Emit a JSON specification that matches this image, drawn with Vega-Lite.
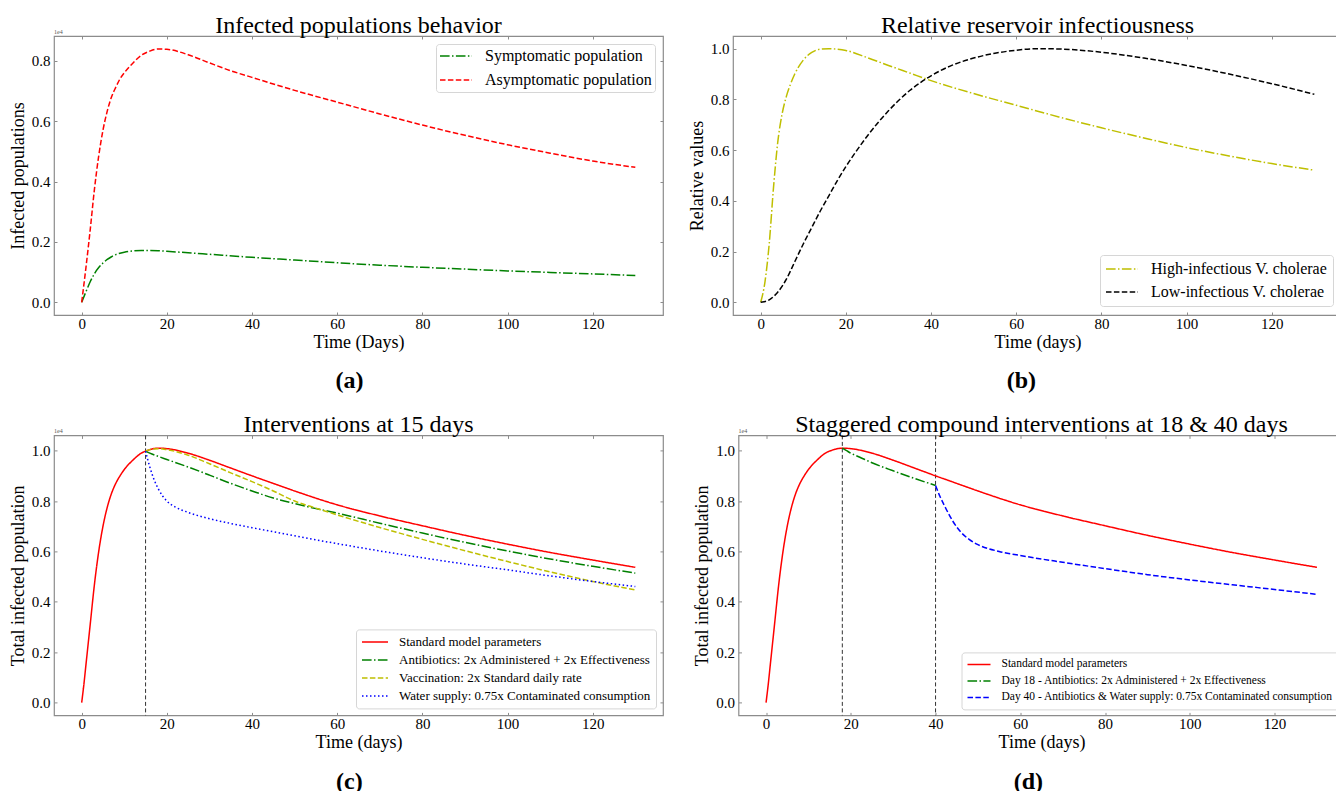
{
  "$schema": "https://vega.github.io/schema/vega-lite/v6.json",
  "padding": {"left": 8, "top": 13, "right": 0, "bottom": 0},
  "background": "white",
  "config": {
    "font": "Liberation Serif",
    "view": {"stroke": "#8c8c8c", "strokeWidth": 1.2},
    "axis": {"domain": false, "grid": false, "tickColor": "#8c8c8c", "tickSize": -3, "labelPadding": 7, "labelFont": "Liberation Serif", "labelFontSize": 15, "labelColor": "#000", "titleFont": "Liberation Serif", "titleFontSize": 18, "titleFontWeight": "normal", "titleColor": "#000"},
    "axisX": {"titlePadding": 1.5, "labelPadding": 4.5},
    "axisY": {"titlePadding": 4},
    "title": {"font": "Liberation Serif", "fontWeight": "normal", "color": "#000"},
    "legend": {"labelFont": "Liberation Serif", "labelColor": "#000", "fillColor": "rgba(255,255,255,0.85)", "strokeColor": "#d6d6d6", "cornerRadius": 3, "symbolType": "stroke", "symbolStrokeWidth": 1.5, "labelLimit": 600}
  },
  "datasets": {
    "a": [
      {"t": 0, "v": 0, "s": "Symptomatic population"}, {"t": 1, "v": 0.035, "s": "Symptomatic population"}, {"t": 2, "v": 0.068, "s": "Symptomatic population"}, {"t": 3, "v": 0.095, "s": "Symptomatic population"}, {"t": 4, "v": 0.115, "s": "Symptomatic population"}, {"t": 5, "v": 0.13, "s": "Symptomatic population"}, {"t": 6, "v": 0.142, "s": "Symptomatic population"}, {"t": 7, "v": 0.151, "s": "Symptomatic population"}, {"t": 8, "v": 0.158, "s": "Symptomatic population"}, {"t": 10, "v": 0.166, "s": "Symptomatic population"}, {"t": 12, "v": 0.17, "s": "Symptomatic population"}, {"t": 14, "v": 0.172, "s": "Symptomatic population"}, {"t": 16, "v": 0.172, "s": "Symptomatic population"}, {"t": 18, "v": 0.171, "s": "Symptomatic population"}, {"t": 20, "v": 0.169, "s": "Symptomatic population"}, {"t": 25, "v": 0.164, "s": "Symptomatic population"}, {"t": 30, "v": 0.159, "s": "Symptomatic population"}, {"t": 40, "v": 0.149, "s": "Symptomatic population"}, {"t": 50, "v": 0.14, "s": "Symptomatic population"}, {"t": 60, "v": 0.131, "s": "Symptomatic population"}, {"t": 70, "v": 0.123, "s": "Symptomatic population"}, {"t": 80, "v": 0.116, "s": "Symptomatic population"}, {"t": 90, "v": 0.11, "s": "Symptomatic population"}, {"t": 100, "v": 0.104, "s": "Symptomatic population"}, {"t": 110, "v": 0.099, "s": "Symptomatic population"}, {"t": 120, "v": 0.094, "s": "Symptomatic population"}, {"t": 130, "v": 0.089, "s": "Symptomatic population"},
      {"t": 0, "v": 0, "s": "Asymptomatic population"}, {"t": 1, "v": 0.115, "s": "Asymptomatic population"}, {"t": 2, "v": 0.24, "s": "Asymptomatic population"}, {"t": 3, "v": 0.375, "s": "Asymptomatic population"}, {"t": 4, "v": 0.485, "s": "Asymptomatic population"}, {"t": 5, "v": 0.57, "s": "Asymptomatic population"}, {"t": 6, "v": 0.633, "s": "Asymptomatic population"}, {"t": 7, "v": 0.68, "s": "Asymptomatic population"}, {"t": 8, "v": 0.712, "s": "Asymptomatic population"}, {"t": 9, "v": 0.74, "s": "Asymptomatic population"}, {"t": 10, "v": 0.76, "s": "Asymptomatic population"}, {"t": 12, "v": 0.792, "s": "Asymptomatic population"}, {"t": 14, "v": 0.818, "s": "Asymptomatic population"}, {"t": 16, "v": 0.832, "s": "Asymptomatic population"}, {"t": 18, "v": 0.839, "s": "Asymptomatic population"}, {"t": 20, "v": 0.838, "s": "Asymptomatic population"}, {"t": 25, "v": 0.82, "s": "Asymptomatic population"}, {"t": 30, "v": 0.793, "s": "Asymptomatic population"}, {"t": 35, "v": 0.767, "s": "Asymptomatic population"}, {"t": 40, "v": 0.745, "s": "Asymptomatic population"}, {"t": 45, "v": 0.723, "s": "Asymptomatic population"}, {"t": 50, "v": 0.702, "s": "Asymptomatic population"}, {"t": 60, "v": 0.663, "s": "Asymptomatic population"}, {"t": 70, "v": 0.624, "s": "Asymptomatic population"}, {"t": 80, "v": 0.587, "s": "Asymptomatic population"}, {"t": 90, "v": 0.553, "s": "Asymptomatic population"}, {"t": 100, "v": 0.522, "s": "Asymptomatic population"}, {"t": 110, "v": 0.494, "s": "Asymptomatic population"}, {"t": 120, "v": 0.468, "s": "Asymptomatic population"}, {"t": 130, "v": 0.447, "s": "Asymptomatic population"}
    ],
    "b": [
      {"t": 0, "v": 0, "s": "High-infectious V. cholerae"}, {"t": 1, "v": 0.08, "s": "High-infectious V. cholerae"}, {"t": 2, "v": 0.23, "s": "High-infectious V. cholerae"}, {"t": 3, "v": 0.45, "s": "High-infectious V. cholerae"}, {"t": 4, "v": 0.63, "s": "High-infectious V. cholerae"}, {"t": 5, "v": 0.74, "s": "High-infectious V. cholerae"}, {"t": 6, "v": 0.81, "s": "High-infectious V. cholerae"}, {"t": 7, "v": 0.86, "s": "High-infectious V. cholerae"}, {"t": 8, "v": 0.9, "s": "High-infectious V. cholerae"}, {"t": 10, "v": 0.955, "s": "High-infectious V. cholerae"}, {"t": 12, "v": 0.985, "s": "High-infectious V. cholerae"}, {"t": 14, "v": 0.998, "s": "High-infectious V. cholerae"}, {"t": 16, "v": 1.0, "s": "High-infectious V. cholerae"}, {"t": 18, "v": 0.998, "s": "High-infectious V. cholerae"}, {"t": 20, "v": 0.993, "s": "High-infectious V. cholerae"}, {"t": 25, "v": 0.965, "s": "High-infectious V. cholerae"}, {"t": 30, "v": 0.934, "s": "High-infectious V. cholerae"}, {"t": 35, "v": 0.904, "s": "High-infectious V. cholerae"}, {"t": 40, "v": 0.874, "s": "High-infectious V. cholerae"}, {"t": 50, "v": 0.823, "s": "High-infectious V. cholerae"}, {"t": 60, "v": 0.777, "s": "High-infectious V. cholerae"}, {"t": 70, "v": 0.731, "s": "High-infectious V. cholerae"}, {"t": 80, "v": 0.688, "s": "High-infectious V. cholerae"}, {"t": 90, "v": 0.648, "s": "High-infectious V. cholerae"}, {"t": 100, "v": 0.61, "s": "High-infectious V. cholerae"}, {"t": 110, "v": 0.577, "s": "High-infectious V. cholerae"}, {"t": 120, "v": 0.547, "s": "High-infectious V. cholerae"}, {"t": 130, "v": 0.521, "s": "High-infectious V. cholerae"},
      {"t": 0, "v": 0, "s": "Low-infectious V. cholerae"}, {"t": 2, "v": 0.01, "s": "Low-infectious V. cholerae"}, {"t": 4, "v": 0.04, "s": "Low-infectious V. cholerae"}, {"t": 6, "v": 0.09, "s": "Low-infectious V. cholerae"}, {"t": 8, "v": 0.16, "s": "Low-infectious V. cholerae"}, {"t": 10, "v": 0.23, "s": "Low-infectious V. cholerae"}, {"t": 12, "v": 0.295, "s": "Low-infectious V. cholerae"}, {"t": 14, "v": 0.36, "s": "Low-infectious V. cholerae"}, {"t": 16, "v": 0.42, "s": "Low-infectious V. cholerae"}, {"t": 18, "v": 0.48, "s": "Low-infectious V. cholerae"}, {"t": 20, "v": 0.535, "s": "Low-infectious V. cholerae"}, {"t": 22, "v": 0.585, "s": "Low-infectious V. cholerae"}, {"t": 25, "v": 0.655, "s": "Low-infectious V. cholerae"}, {"t": 30, "v": 0.755, "s": "Low-infectious V. cholerae"}, {"t": 35, "v": 0.835, "s": "Low-infectious V. cholerae"}, {"t": 40, "v": 0.893, "s": "Low-infectious V. cholerae"}, {"t": 45, "v": 0.935, "s": "Low-infectious V. cholerae"}, {"t": 50, "v": 0.963, "s": "Low-infectious V. cholerae"}, {"t": 55, "v": 0.982, "s": "Low-infectious V. cholerae"}, {"t": 60, "v": 0.994, "s": "Low-infectious V. cholerae"}, {"t": 65, "v": 1.0, "s": "Low-infectious V. cholerae"}, {"t": 70, "v": 0.999, "s": "Low-infectious V. cholerae"}, {"t": 75, "v": 0.994, "s": "Low-infectious V. cholerae"}, {"t": 80, "v": 0.986, "s": "Low-infectious V. cholerae"}, {"t": 90, "v": 0.963, "s": "Low-infectious V. cholerae"}, {"t": 100, "v": 0.934, "s": "Low-infectious V. cholerae"}, {"t": 110, "v": 0.9, "s": "Low-infectious V. cholerae"}, {"t": 120, "v": 0.862, "s": "Low-infectious V. cholerae"}, {"t": 130, "v": 0.82, "s": "Low-infectious V. cholerae"}
    ],
    "c": [
      {"t": 0, "v": 0, "s": "Standard model parameters"}, {"t": 0.5, "v": 0.07, "s": "Standard model parameters"}, {"t": 1, "v": 0.15, "s": "Standard model parameters"}, {"t": 2, "v": 0.31, "s": "Standard model parameters"}, {"t": 3, "v": 0.47, "s": "Standard model parameters"}, {"t": 4, "v": 0.6, "s": "Standard model parameters"}, {"t": 5, "v": 0.7, "s": "Standard model parameters"}, {"t": 6, "v": 0.775, "s": "Standard model parameters"}, {"t": 7, "v": 0.83, "s": "Standard model parameters"}, {"t": 8, "v": 0.87, "s": "Standard model parameters"}, {"t": 9, "v": 0.9, "s": "Standard model parameters"}, {"t": 10, "v": 0.925, "s": "Standard model parameters"}, {"t": 12, "v": 0.962, "s": "Standard model parameters"}, {"t": 14, "v": 0.99, "s": "Standard model parameters"}, {"t": 15, "v": 0.998, "s": "Standard model parameters"}, {"t": 16, "v": 1.004, "s": "Standard model parameters"}, {"t": 18, "v": 1.01, "s": "Standard model parameters"}, {"t": 20, "v": 1.008, "s": "Standard model parameters"}, {"t": 25, "v": 0.99, "s": "Standard model parameters"}, {"t": 30, "v": 0.962, "s": "Standard model parameters"}, {"t": 35, "v": 0.931, "s": "Standard model parameters"}, {"t": 40, "v": 0.9, "s": "Standard model parameters"}, {"t": 45, "v": 0.87, "s": "Standard model parameters"}, {"t": 50, "v": 0.84, "s": "Standard model parameters"}, {"t": 60, "v": 0.785, "s": "Standard model parameters"}, {"t": 70, "v": 0.741, "s": "Standard model parameters"}, {"t": 80, "v": 0.702, "s": "Standard model parameters"}, {"t": 90, "v": 0.664, "s": "Standard model parameters"}, {"t": 100, "v": 0.629, "s": "Standard model parameters"}, {"t": 110, "v": 0.596, "s": "Standard model parameters"}, {"t": 120, "v": 0.566, "s": "Standard model parameters"}, {"t": 130, "v": 0.537, "s": "Standard model parameters"},
      {"t": 15, "v": 0.998, "s": "Antibiotics: 2x Administered + 2x Effectiveness"}, {"t": 16, "v": 0.99, "s": "Antibiotics: 2x Administered + 2x Effectiveness"}, {"t": 18, "v": 0.977, "s": "Antibiotics: 2x Administered + 2x Effectiveness"}, {"t": 20, "v": 0.965, "s": "Antibiotics: 2x Administered + 2x Effectiveness"}, {"t": 25, "v": 0.935, "s": "Antibiotics: 2x Administered + 2x Effectiveness"}, {"t": 30, "v": 0.903, "s": "Antibiotics: 2x Administered + 2x Effectiveness"}, {"t": 35, "v": 0.87, "s": "Antibiotics: 2x Administered + 2x Effectiveness"}, {"t": 40, "v": 0.84, "s": "Antibiotics: 2x Administered + 2x Effectiveness"}, {"t": 45, "v": 0.812, "s": "Antibiotics: 2x Administered + 2x Effectiveness"}, {"t": 50, "v": 0.79, "s": "Antibiotics: 2x Administered + 2x Effectiveness"}, {"t": 55, "v": 0.77, "s": "Antibiotics: 2x Administered + 2x Effectiveness"}, {"t": 60, "v": 0.752, "s": "Antibiotics: 2x Administered + 2x Effectiveness"}, {"t": 70, "v": 0.712, "s": "Antibiotics: 2x Administered + 2x Effectiveness"}, {"t": 80, "v": 0.673, "s": "Antibiotics: 2x Administered + 2x Effectiveness"}, {"t": 90, "v": 0.636, "s": "Antibiotics: 2x Administered + 2x Effectiveness"}, {"t": 100, "v": 0.602, "s": "Antibiotics: 2x Administered + 2x Effectiveness"}, {"t": 110, "v": 0.57, "s": "Antibiotics: 2x Administered + 2x Effectiveness"}, {"t": 120, "v": 0.541, "s": "Antibiotics: 2x Administered + 2x Effectiveness"}, {"t": 130, "v": 0.514, "s": "Antibiotics: 2x Administered + 2x Effectiveness"},
      {"t": 15, "v": 0.998, "s": "Vaccination: 2x Standard daily rate"}, {"t": 16, "v": 1.004, "s": "Vaccination: 2x Standard daily rate"}, {"t": 18, "v": 1.008, "s": "Vaccination: 2x Standard daily rate"}, {"t": 20, "v": 1.004, "s": "Vaccination: 2x Standard daily rate"}, {"t": 25, "v": 0.982, "s": "Vaccination: 2x Standard daily rate"}, {"t": 30, "v": 0.948, "s": "Vaccination: 2x Standard daily rate"}, {"t": 35, "v": 0.912, "s": "Vaccination: 2x Standard daily rate"}, {"t": 40, "v": 0.877, "s": "Vaccination: 2x Standard daily rate"}, {"t": 45, "v": 0.84, "s": "Vaccination: 2x Standard daily rate"}, {"t": 50, "v": 0.8, "s": "Vaccination: 2x Standard daily rate"}, {"t": 55, "v": 0.772, "s": "Vaccination: 2x Standard daily rate"}, {"t": 60, "v": 0.745, "s": "Vaccination: 2x Standard daily rate"}, {"t": 70, "v": 0.695, "s": "Vaccination: 2x Standard daily rate"}, {"t": 80, "v": 0.648, "s": "Vaccination: 2x Standard daily rate"}, {"t": 90, "v": 0.603, "s": "Vaccination: 2x Standard daily rate"}, {"t": 100, "v": 0.56, "s": "Vaccination: 2x Standard daily rate"}, {"t": 110, "v": 0.519, "s": "Vaccination: 2x Standard daily rate"}, {"t": 120, "v": 0.481, "s": "Vaccination: 2x Standard daily rate"}, {"t": 130, "v": 0.447, "s": "Vaccination: 2x Standard daily rate"},
      {"t": 15, "v": 0.998, "s": "Water supply: 0.75x Contaminated consumption"}, {"t": 15.5, "v": 0.965, "s": "Water supply: 0.75x Contaminated consumption"}, {"t": 16, "v": 0.935, "s": "Water supply: 0.75x Contaminated consumption"}, {"t": 17, "v": 0.885, "s": "Water supply: 0.75x Contaminated consumption"}, {"t": 18, "v": 0.848, "s": "Water supply: 0.75x Contaminated consumption"}, {"t": 19, "v": 0.82, "s": "Water supply: 0.75x Contaminated consumption"}, {"t": 20, "v": 0.8, "s": "Water supply: 0.75x Contaminated consumption"}, {"t": 22, "v": 0.776, "s": "Water supply: 0.75x Contaminated consumption"}, {"t": 25, "v": 0.755, "s": "Water supply: 0.75x Contaminated consumption"}, {"t": 30, "v": 0.73, "s": "Water supply: 0.75x Contaminated consumption"}, {"t": 35, "v": 0.711, "s": "Water supply: 0.75x Contaminated consumption"}, {"t": 40, "v": 0.694, "s": "Water supply: 0.75x Contaminated consumption"}, {"t": 45, "v": 0.678, "s": "Water supply: 0.75x Contaminated consumption"}, {"t": 50, "v": 0.662, "s": "Water supply: 0.75x Contaminated consumption"}, {"t": 55, "v": 0.646, "s": "Water supply: 0.75x Contaminated consumption"}, {"t": 60, "v": 0.631, "s": "Water supply: 0.75x Contaminated consumption"}, {"t": 70, "v": 0.602, "s": "Water supply: 0.75x Contaminated consumption"}, {"t": 80, "v": 0.575, "s": "Water supply: 0.75x Contaminated consumption"}, {"t": 90, "v": 0.55, "s": "Water supply: 0.75x Contaminated consumption"}, {"t": 100, "v": 0.527, "s": "Water supply: 0.75x Contaminated consumption"}, {"t": 110, "v": 0.503, "s": "Water supply: 0.75x Contaminated consumption"}, {"t": 120, "v": 0.481, "s": "Water supply: 0.75x Contaminated consumption"}, {"t": 130, "v": 0.461, "s": "Water supply: 0.75x Contaminated consumption"}
    ],
    "d": [
      {"t": 0, "v": 0, "s": "Standard model parameters"}, {"t": 0.5, "v": 0.07, "s": "Standard model parameters"}, {"t": 1, "v": 0.15, "s": "Standard model parameters"}, {"t": 2, "v": 0.31, "s": "Standard model parameters"}, {"t": 3, "v": 0.47, "s": "Standard model parameters"}, {"t": 4, "v": 0.6, "s": "Standard model parameters"}, {"t": 5, "v": 0.7, "s": "Standard model parameters"}, {"t": 6, "v": 0.775, "s": "Standard model parameters"}, {"t": 7, "v": 0.83, "s": "Standard model parameters"}, {"t": 8, "v": 0.87, "s": "Standard model parameters"}, {"t": 9, "v": 0.9, "s": "Standard model parameters"}, {"t": 10, "v": 0.925, "s": "Standard model parameters"}, {"t": 12, "v": 0.962, "s": "Standard model parameters"}, {"t": 14, "v": 0.99, "s": "Standard model parameters"}, {"t": 16, "v": 1.004, "s": "Standard model parameters"}, {"t": 18, "v": 1.01, "s": "Standard model parameters"}, {"t": 20, "v": 1.008, "s": "Standard model parameters"}, {"t": 25, "v": 0.99, "s": "Standard model parameters"}, {"t": 30, "v": 0.962, "s": "Standard model parameters"}, {"t": 35, "v": 0.931, "s": "Standard model parameters"}, {"t": 40, "v": 0.9, "s": "Standard model parameters"}, {"t": 45, "v": 0.87, "s": "Standard model parameters"}, {"t": 50, "v": 0.84, "s": "Standard model parameters"}, {"t": 60, "v": 0.785, "s": "Standard model parameters"}, {"t": 70, "v": 0.741, "s": "Standard model parameters"}, {"t": 80, "v": 0.702, "s": "Standard model parameters"}, {"t": 90, "v": 0.664, "s": "Standard model parameters"}, {"t": 100, "v": 0.629, "s": "Standard model parameters"}, {"t": 110, "v": 0.596, "s": "Standard model parameters"}, {"t": 120, "v": 0.566, "s": "Standard model parameters"}, {"t": 130, "v": 0.537, "s": "Standard model parameters"},
      {"t": 18, "v": 1.01, "s": "Day 18 - Antibiotics: 2x Administered + 2x Effectiveness"}, {"t": 19, "v": 1.0, "s": "Day 18 - Antibiotics: 2x Administered + 2x Effectiveness"}, {"t": 20, "v": 0.99, "s": "Day 18 - Antibiotics: 2x Administered + 2x Effectiveness"}, {"t": 22, "v": 0.975, "s": "Day 18 - Antibiotics: 2x Administered + 2x Effectiveness"}, {"t": 25, "v": 0.952, "s": "Day 18 - Antibiotics: 2x Administered + 2x Effectiveness"}, {"t": 30, "v": 0.92, "s": "Day 18 - Antibiotics: 2x Administered + 2x Effectiveness"}, {"t": 35, "v": 0.89, "s": "Day 18 - Antibiotics: 2x Administered + 2x Effectiveness"}, {"t": 40, "v": 0.862, "s": "Day 18 - Antibiotics: 2x Administered + 2x Effectiveness"},
      {"t": 40, "v": 0.862, "s": "Day 40 - Antibiotics & Water supply: 0.75x Contaminated consumption"}, {"t": 41, "v": 0.82, "s": "Day 40 - Antibiotics & Water supply: 0.75x Contaminated consumption"}, {"t": 42, "v": 0.785, "s": "Day 40 - Antibiotics & Water supply: 0.75x Contaminated consumption"}, {"t": 43, "v": 0.752, "s": "Day 40 - Antibiotics & Water supply: 0.75x Contaminated consumption"}, {"t": 44, "v": 0.722, "s": "Day 40 - Antibiotics & Water supply: 0.75x Contaminated consumption"}, {"t": 45, "v": 0.697, "s": "Day 40 - Antibiotics & Water supply: 0.75x Contaminated consumption"}, {"t": 46, "v": 0.676, "s": "Day 40 - Antibiotics & Water supply: 0.75x Contaminated consumption"}, {"t": 48, "v": 0.647, "s": "Day 40 - Antibiotics & Water supply: 0.75x Contaminated consumption"}, {"t": 50, "v": 0.627, "s": "Day 40 - Antibiotics & Water supply: 0.75x Contaminated consumption"}, {"t": 55, "v": 0.6, "s": "Day 40 - Antibiotics & Water supply: 0.75x Contaminated consumption"}, {"t": 60, "v": 0.584, "s": "Day 40 - Antibiotics & Water supply: 0.75x Contaminated consumption"}, {"t": 70, "v": 0.557, "s": "Day 40 - Antibiotics & Water supply: 0.75x Contaminated consumption"}, {"t": 80, "v": 0.532, "s": "Day 40 - Antibiotics & Water supply: 0.75x Contaminated consumption"}, {"t": 90, "v": 0.508, "s": "Day 40 - Antibiotics & Water supply: 0.75x Contaminated consumption"}, {"t": 100, "v": 0.487, "s": "Day 40 - Antibiotics & Water supply: 0.75x Contaminated consumption"}, {"t": 110, "v": 0.468, "s": "Day 40 - Antibiotics & Water supply: 0.75x Contaminated consumption"}, {"t": 120, "v": 0.449, "s": "Day 40 - Antibiotics & Water supply: 0.75x Contaminated consumption"}, {"t": 130, "v": 0.43, "s": "Day 40 - Antibiotics & Water supply: 0.75x Contaminated consumption"}
    ]
  },
  "spacing": 18.4,
  "resolve": {"scale": {"color": "independent", "strokeDash": "independent"}, "legend": {"color": "independent", "strokeDash": "independent"}},
  "vconcat": [
    {
      "spacing": 22,
      "resolve": {"scale": {"color": "independent", "strokeDash": "independent"}, "legend": {"color": "independent", "strokeDash": "independent"}},
      "hconcat": [
        {
          "title": {"text": "(a)", "orient": "bottom", "fontSize": 24, "fontWeight": "bold", "anchor": "middle", "offset": 17.5, "dx": 13},
          "resolve": {"scale": {"color": "independent", "strokeDash": "independent"}, "legend": {"color": "independent", "strokeDash": "independent"}},
          "vconcat": [
            {
              "width": 609, "height": 279,
              "title": {"text": "Infected populations behavior", "fontSize": 24, "anchor": "middle", "frame": "group", "baseline": "alphabetic", "offset": -28},
              "layer": [
                {
                  "data": {"name": "a"},
                  "mark": {"type": "line", "strokeWidth": 1.5, "interpolate": "monotone"},
                  "encoding": {
                    "x": {"field": "t", "type": "quantitative", "scale": {"domain": [-6.5, 136.5], "nice": false, "zero": false}, "axis": {"orient": "bottom", "values": [0, 20, 40, 60, 80, 100, 120], "format": "d", "title": "Time (Days)"}},
                    "y": {"field": "v", "type": "quantitative", "scale": {"domain": [-0.042, 0.882], "nice": false, "zero": false}, "axis": {"orient": "left", "values": [0, 0.2, 0.4, 0.6, 0.8], "format": ".1f", "title": "Infected populations"}},
                    "color": {"field": "s", "type": "nominal", "scale": {"domain": ["Symptomatic population", "Asymptomatic population"], "range": ["#008000", "#ff0000"]}, "legend": {"title": null, "orient": "top-right", "offset": 8, "labelFontSize": 16, "symbolSize": 1024, "padding": 3, "clipHeight": 18, "rowPadding": 6, "labelOffset": 12}},
                    "strokeDash": {"field": "s", "type": "nominal", "scale": {"domain": ["Symptomatic population", "Asymptomatic population"], "range": [[9.6, 2.4, 1.5, 2.4], [5.5, 2.4]]}, "legend": {"title": null, "orient": "top-right", "offset": 8, "labelFontSize": 16, "symbolSize": 1024, "padding": 3, "clipHeight": 18, "rowPadding": 6, "labelOffset": 12}}
                  }
                },
                {
                  "data": {"values": [{"lab": "1e4"}]},
                  "mark": {"type": "text", "align": "left", "baseline": "bottom", "dy": -1, "fontSize": 6, "color": "#555"},
                  "encoding": {
                    "x": {"datum": -6.5, "type": "quantitative", "axis": {"orient": "top", "labels": false, "title": null, "minExtent": 0, "maxExtent": 0, "values": [0, 20, 40, 60, 80, 100, 120]}},
                    "y": {"datum": 0.882, "type": "quantitative", "axis": {"orient": "right", "labels": false, "title": null, "minExtent": 0, "maxExtent": 0, "values": [0, 0.2, 0.4, 0.6, 0.8]}},
                    "text": {"field": "lab"}
                  }
                }
              ]
            }
          ]
        },
        {
          "title": {"text": "(b)", "orient": "bottom", "fontSize": 24, "fontWeight": "bold", "anchor": "middle", "offset": 17.5, "dx": 6},
          "resolve": {"scale": {"color": "independent", "strokeDash": "independent"}, "legend": {"color": "independent", "strokeDash": "independent"}},
          "vconcat": [
            {
              "width": 609, "height": 279,
              "title": {"text": "Relative reservoir infectiousness", "fontSize": 24, "anchor": "middle", "frame": "group", "baseline": "alphabetic", "offset": -28},
              "layer": [
                {
                  "data": {"name": "b"},
                  "mark": {"type": "line", "strokeWidth": 1.5, "interpolate": "monotone"},
                  "encoding": {
                    "x": {"field": "t", "type": "quantitative", "scale": {"domain": [-6.5, 136.5], "nice": false, "zero": false}, "axis": {"orient": "bottom", "values": [0, 20, 40, 60, 80, 100, 120], "format": "d", "title": "Time (days)"}},
                    "y": {"field": "v", "type": "quantitative", "scale": {"domain": [-0.05, 1.05], "nice": false, "zero": false}, "axis": {"orient": "left", "values": [0, 0.2, 0.4, 0.6, 0.8, 1.0], "format": ".1f", "title": "Relative values"}},
                    "color": {"field": "s", "type": "nominal", "scale": {"domain": ["High-infectious V. cholerae", "Low-infectious V. cholerae"], "range": ["#bfbf00", "#000000"]}, "legend": {"title": null, "orient": "bottom-right", "offset": 9, "labelFontSize": 16, "symbolSize": 1024, "padding": 5, "clipHeight": 18, "rowPadding": 5, "labelOffset": 12}},
                    "strokeDash": {"field": "s", "type": "nominal", "scale": {"domain": ["High-infectious V. cholerae", "Low-infectious V. cholerae"], "range": [[9.6, 2.4, 1.5, 2.4], [5.5, 2.4]]}, "legend": {"title": null, "orient": "bottom-right", "offset": 9, "labelFontSize": 16, "symbolSize": 1024, "padding": 5, "clipHeight": 18, "rowPadding": 5, "labelOffset": 12}}
                  }
                },
                {
                  "data": {"values": [{"lab": " "}]},
                  "mark": {"type": "text", "align": "left", "baseline": "bottom", "dy": -1, "fontSize": 6, "color": "#555"},
                  "encoding": {
                    "x": {"datum": -6.5, "type": "quantitative", "axis": {"orient": "top", "labels": false, "title": null, "minExtent": 0, "maxExtent": 0, "values": [0, 20, 40, 60, 80, 100, 120]}},
                    "y": {"datum": 1.05, "type": "quantitative", "axis": {"orient": "right", "labels": false, "title": null, "minExtent": 0, "maxExtent": 0, "values": [0, 0.2, 0.4, 0.6, 0.8, 1.0]}},
                    "text": {"field": "lab"}
                  }
                }
              ]
            }
          ]
        }
      ]
    },
    {
      "spacing": 27.5,
      "resolve": {"scale": {"color": "independent", "strokeDash": "independent"}, "legend": {"color": "independent", "strokeDash": "independent"}},
      "hconcat": [
        {
          "title": {"text": "(c)", "orient": "bottom", "fontSize": 24, "fontWeight": "bold", "anchor": "middle", "offset": 17.5, "dx": 13},
          "resolve": {"scale": {"color": "independent", "strokeDash": "independent"}, "legend": {"color": "independent", "strokeDash": "independent"}},
          "vconcat": [
            {
              "width": 609, "height": 280,
              "title": {"text": "Interventions at 15 days", "fontSize": 24, "anchor": "middle", "frame": "group", "baseline": "alphabetic", "offset": -28},
              "layer": [
                {
                  "data": {"values": [{"t": 15}]},
                  "mark": {"type": "rule", "color": "#333", "strokeWidth": 1, "strokeDash": [4, 2.5]},
                  "encoding": {"x": {"field": "t", "type": "quantitative", "axis": null}}
                },
                {
                  "data": {"name": "c"},
                  "mark": {"type": "line", "strokeWidth": 1.5, "interpolate": "monotone"},
                  "encoding": {
                    "x": {"field": "t", "type": "quantitative", "scale": {"domain": [-6.5, 136.5], "nice": false, "zero": false}, "axis": {"orient": "bottom", "values": [0, 20, 40, 60, 80, 100, 120], "format": "d", "title": "Time (days)"}},
                    "y": {"field": "v", "type": "quantitative", "scale": {"domain": [-0.0505, 1.0605], "nice": false, "zero": false}, "axis": {"orient": "left", "values": [0, 0.2, 0.4, 0.6, 0.8, 1.0], "format": ".1f", "title": "Total infected population"}},
                    "color": {"field": "s", "type": "nominal", "scale": {"domain": ["Standard model parameters", "Antibiotics: 2x Administered + 2x Effectiveness", "Vaccination: 2x Standard daily rate", "Water supply: 0.75x Contaminated consumption"], "range": ["#ff0000", "#008000", "#bfbf00", "#0000ff"]}, "legend": {"title": null, "orient": "bottom-right", "offset": 7, "labelFontSize": 13, "symbolSize": 676, "padding": 5, "clipHeight": 15, "rowPadding": 3, "labelOffset": 10}},
                    "strokeDash": {"field": "s", "type": "nominal", "scale": {"domain": ["Standard model parameters", "Antibiotics: 2x Administered + 2x Effectiveness", "Vaccination: 2x Standard daily rate", "Water supply: 0.75x Contaminated consumption"], "range": [[1, 0], [9.6, 2.4, 1.5, 2.4], [5.5, 2.4], [1.5, 2.5]]}, "legend": {"title": null, "orient": "bottom-right", "offset": 7, "labelFontSize": 13, "symbolSize": 676, "padding": 5, "clipHeight": 15, "rowPadding": 3, "labelOffset": 10}}
                  }
                },
                {
                  "data": {"values": [{"lab": "1e4"}]},
                  "mark": {"type": "text", "align": "left", "baseline": "bottom", "dy": -1, "fontSize": 6, "color": "#555"},
                  "encoding": {
                    "x": {"datum": -6.5, "type": "quantitative", "axis": {"orient": "top", "labels": false, "title": null, "minExtent": 0, "maxExtent": 0, "values": [0, 20, 40, 60, 80, 100, 120]}},
                    "y": {"datum": 1.0605, "type": "quantitative", "axis": {"orient": "right", "labels": false, "title": null, "minExtent": 0, "maxExtent": 0, "values": [0, 0.2, 0.4, 0.6, 0.8, 1.0]}},
                    "text": {"field": "lab"}
                  }
                }
              ]
            }
          ]
        },
        {
          "title": {"text": "(d)", "orient": "bottom", "fontSize": 24, "fontWeight": "bold", "anchor": "middle", "offset": 17.5, "dx": 9},
          "resolve": {"scale": {"color": "independent", "strokeDash": "independent"}, "legend": {"color": "independent", "strokeDash": "independent"}},
          "vconcat": [
            {
              "width": 606, "height": 280,
              "title": {"text": "Staggered compound interventions at 18 & 40 days", "fontSize": 24, "anchor": "middle", "frame": "group", "baseline": "alphabetic", "offset": -28},
              "layer": [
                {
                  "data": {"values": [{"t": 18}, {"t": 40}]},
                  "mark": {"type": "rule", "color": "#333", "strokeWidth": 1, "strokeDash": [4, 2.5]},
                  "encoding": {"x": {"field": "t", "type": "quantitative", "axis": null}}
                },
                {
                  "data": {"name": "d"},
                  "mark": {"type": "line", "strokeWidth": 1.5, "interpolate": "monotone"},
                  "encoding": {
                    "x": {"field": "t", "type": "quantitative", "scale": {"domain": [-6.5, 136.5], "nice": false, "zero": false}, "axis": {"orient": "bottom", "values": [0, 20, 40, 60, 80, 100, 120], "format": "d", "title": "Time (days)"}},
                    "y": {"field": "v", "type": "quantitative", "scale": {"domain": [-0.0505, 1.0605], "nice": false, "zero": false}, "axis": {"orient": "left", "values": [0, 0.2, 0.4, 0.6, 0.8, 1.0], "format": ".1f", "title": "Total infected population"}},
                    "color": {"field": "s", "type": "nominal", "scale": {"domain": ["Standard model parameters", "Day 18 - Antibiotics: 2x Administered + 2x Effectiveness", "Day 40 - Antibiotics & Water supply: 0.75x Contaminated consumption"], "range": ["#ff0000", "#008000", "#0000ff"]}, "legend": {"title": null, "orient": "bottom-right", "offset": 6, "labelFontSize": 11.5, "symbolSize": 529, "padding": 5, "clipHeight": 14, "rowPadding": 2.5, "labelOffset": 10}},
                    "strokeDash": {"field": "s", "type": "nominal", "scale": {"domain": ["Standard model parameters", "Day 18 - Antibiotics: 2x Administered + 2x Effectiveness", "Day 40 - Antibiotics & Water supply: 0.75x Contaminated consumption"], "range": [[1, 0], [9.6, 2.4, 1.5, 2.4], [5.5, 2.4]]}, "legend": {"title": null, "orient": "bottom-right", "offset": 6, "labelFontSize": 11.5, "symbolSize": 529, "padding": 5, "clipHeight": 14, "rowPadding": 2.5, "labelOffset": 10}}
                  }
                },
                {
                  "data": {"values": [{"lab": "1e4"}]},
                  "mark": {"type": "text", "align": "left", "baseline": "bottom", "dy": -1, "fontSize": 6, "color": "#555"},
                  "encoding": {
                    "x": {"datum": -6.5, "type": "quantitative", "axis": {"orient": "top", "labels": false, "title": null, "minExtent": 0, "maxExtent": 0, "values": [0, 20, 40, 60, 80, 100, 120]}},
                    "y": {"datum": 1.0605, "type": "quantitative", "axis": {"orient": "right", "labels": false, "title": null, "minExtent": 0, "maxExtent": 0, "values": [0, 0.2, 0.4, 0.6, 0.8, 1.0]}},
                    "text": {"field": "lab"}
                  }
                }
              ]
            }
          ]
        }
      ]
    }
  ]
}
